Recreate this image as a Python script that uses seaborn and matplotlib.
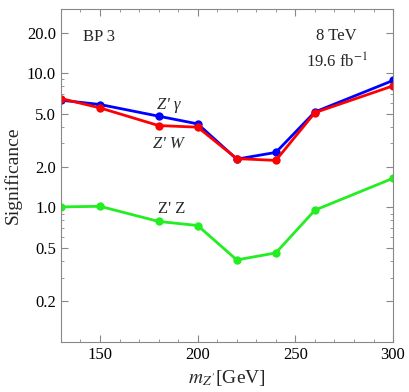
import matplotlib
matplotlib.use("Agg")
import matplotlib.pyplot as plt
import matplotlib.ticker as mticker
import seaborn as sns
import pandas as pd

mass = [130, 150, 180, 200, 220, 240, 260, 300]
sig_zgamma = [6.29, 5.84, 4.78, 4.19, 2.29, 2.57, 5.14, 8.82]
sig_zw = [6.47, 5.51, 4.07, 3.96, 2.31, 2.24, 5.08, 8.04]
sig_zz = [1.01, 1.02, 0.787, 0.734, 0.407, 0.459, 0.955, 1.65]

channels = ["Z'γ", "Z'W", "Z'Z"]
colors = {"Z'γ": "#0000ff", "Z'W": "#ff0000", "Z'Z": "#22ee22"}

df = pd.concat([
    pd.DataFrame({"mass": mass, "sig": s, "channel": c})
    for s, c in zip([sig_zgamma, sig_zw, sig_zz], channels)
])

sns.set_style("ticks")
plt.rcParams['font.family'] = ['Liberation Serif', 'DejaVu Serif']
plt.rcParams['mathtext.fontset'] = 'stix'

fig, ax = plt.subplots(figsize=(4.09, 3.92), dpi=100)
fig.subplots_adjust(left=0.149, right=0.961, top=0.977, bottom=0.128)

sns.lineplot(data=df, x="mass", y="sig", hue="channel", palette=colors,
             hue_order=["Z'Z", "Z'γ", "Z'W"], marker="o", markersize=6,
             markeredgewidth=0, linewidth=2, legend=False, ax=ax)

ax.set_yscale("log")
ax.set_xlim(130, 300)
ax.set_ylim(0.1, 30)

ax.xaxis.set_major_locator(mticker.FixedLocator([150, 200, 250, 300]))
ax.xaxis.set_minor_locator(mticker.MultipleLocator(10))
ax.yaxis.set_major_locator(mticker.FixedLocator([0.2, 0.5, 1, 2, 5, 10, 20]))
ax.yaxis.set_major_formatter(mticker.FuncFormatter(lambda v, p: f"{v:.1f}"))
ax.yaxis.set_minor_locator(mticker.LogLocator(base=10, subs=[1, 2, 3, 4, 5, 6, 7, 8, 9]))
ax.yaxis.set_minor_formatter(mticker.NullFormatter())

for sp in ax.spines.values():
    sp.set_color("#888888")
    sp.set_linewidth(0.8)
ax.tick_params(which="both", direction="in", top=True, right=True, color="#888888",
               labelsize=12, labelcolor="black")
ax.tick_params(which="major", length=5)
ax.tick_params(which="minor", length=2.5)

ax.set_xlabel(r"$m_{Z'}$[GeV]", fontsize=14, labelpad=4)
ax.set_ylabel("Significance", fontsize=14, labelpad=4)

ax.text(0.065, 0.915, "BP 3", transform=ax.transAxes, fontsize=12, va="center")
ax.text(0.83, 0.92, "8 TeV", transform=ax.transAxes, fontsize=12, ha="center", va="center")
ax.text(0.83, 0.84, r"19.6 fb$^{-1}$", transform=ax.transAxes, fontsize=12, ha="center", va="center")
ax.text(179, 5.8, "Z' γ", fontsize=12, style="italic", va="center")
ax.text(177, 2.95, "Z' W", fontsize=12, style="italic", va="center")
ax.text(179.5, 0.98, "Z' Z", fontsize=12, va="center")

fig.savefig("out.png", dpi=100)
